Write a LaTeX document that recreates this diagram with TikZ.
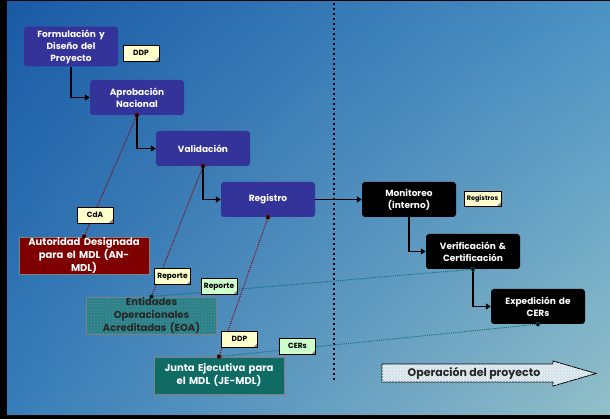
\documentclass[tikz,border=0pt]{standalone}
\usepackage{fontspec}
\setmainfont{Poppins}
\usetikzlibrary{arrows.meta,patterns,shadings}

\definecolor{stepblue}{HTML}{333399}
\definecolor{anred}{HTML}{7F0000}
\definecolor{eoateal}{HTML}{2C7F86}
\definecolor{eoadots}{HTML}{4F9AA0}
\definecolor{jeteal}{HTML}{0F6B63}
\definecolor{noteyellow}{HTML}{FFFFCC}
\definecolor{notegreen}{HTML}{CCFFCC}
\definecolor{linkred}{HTML}{8B0000}
\definecolor{linkteal}{HTML}{0E6F6F}
\definecolor{bgtl}{HTML}{1A5AA5}
\definecolor{bgtr}{HTML}{4A92C4}
\definecolor{bgbl}{HTML}{377DB9}
\definecolor{bgbr}{HTML}{93C0C9}
\definecolor{arrowfill}{HTML}{D3E2EA}

\tikzset{
  stepbox/.style={fill=stepblue, rounded corners=3pt, text=white,
    font=\fontsize{9}{12}\selectfont\bfseries, align=center,
    text width=88pt, inner sep=3pt, minimum height=35pt},
  opbox/.style={stepbox, fill=black},
  agentbox/.style={draw=gray, line width=0.8pt, text=white,
    font=\fontsize{10}{13}\selectfont\bfseries, align=center,
    text width=124pt, inner xsep=3pt, inner ysep=0pt, minimum height=37pt},
  note/.style={draw=black, fill=noteyellow, line width=0.6pt,
    font=\fontsize{7.5}{8.5}\selectfont\bfseries, inner sep=1pt,
    minimum width=36pt, minimum height=16pt,
    path picture={
      \fill[black!45] ([xshift=-4pt]path picture bounding box.south east)
        -- ([yshift=4pt]path picture bounding box.south east)
        -- (path picture bounding box.south east) -- cycle;}},
  flow/.style={draw=black, line width=1.3pt, -{Triangle[length=5pt,width=6pt]}},
  linkred/.style={draw=linkred, line width=1pt, dash pattern=on 1pt off 1.2pt},
  linkteal/.style={draw=linkteal, line width=1pt, dash pattern=on 1pt off 1.2pt},
}

\begin{document}
\begin{tikzpicture}[x=1pt,y=-1pt]
  \useasboundingbox (0,0) rectangle (610,419);
  % background
  \fill[black] (0,0) rectangle (610,419);
  \shade[upper left=bgtl, upper right=bgtr, lower left=bgbl, lower right=bgbr]
    (7,2) rectangle (610,414);

  % separator between project cycle and operation
  \coordinate (sepTop) at (334,3);
  \coordinate (sepBot) at (334,382);
  \draw[line width=2pt, dash pattern=on 2pt off 3pt] (sepTop) -- (sepBot);

  % project cycle
  \node[stepbox] (form) at (71,46.5) {Formulación y\\Diseño del\\Proyecto};
  \node[stepbox] (aprob) at (137,97.5) {Aprobación\\Nacional};
  \node[stepbox] (valid) at (203,148.5) {Validación};
  \node[stepbox] (regis) at (268,199.5) {Registro};
  \node[opbox] (monit) at (409,199.5) {Monitoreo\\(interno)};
  \node[opbox] (verif) at (473,251.5) {Verificación \&\\Certificación};
  \node[opbox] (exped) at (538,306.5) {Expedición de\\CERs};

  \draw[flow] (form.south) |- (aprob.west);
  \draw[flow] (aprob.south) |- (valid.west);
  \draw[flow] (valid.south) |- (regis.west);
  \draw[flow] (regis.east) -- (monit.west);
  \draw[flow] (monit.south) |- (verif.west);
  \draw[flow] (verif.south) |- (exped.west);

  % actors
  \node[agentbox, fill=anred] (anmdl) at (84,255.5)
    {Autoridad Designada\\para el MDL (AN-\\MDL)};
  \node[agentbox, fill=eoateal, text=black!85,
    postaction={pattern=crosshatch dots, pattern color=eoadots}]
    (eoa) at (151.5,315.5) {Entidades\\Operacionales\\Acreditadas (EOA)};
  \node[agentbox, fill=jeteal] (jemdl) at (219,375.5)
    {Junta Ejecutiva para\\el MDL (JE-MDL)};

  % links
  \draw[linkred] (aprob.south) -- (anmdl.north);
  \draw[linkred] (valid.south) -- (eoa.north);
  \draw[linkred] (regis.south) -- (jemdl.north);
  \draw[linkteal] (eoa.north) -- (verif.south);
  \draw[linkteal] (jemdl.north) -- (exped.south);
  \fill[linkred] (aprob.south) circle (2pt);
  \fill[linkred] (valid.south) circle (2pt);
  \fill[linkred] (regis.south) circle (2pt);
  \fill[linkred] (anmdl.north) circle (2pt);
  \fill[linkred] (jemdl.north) circle (2pt);
  \fill[linkteal] (eoa.north) circle (2pt);
  \fill[linkteal] (verif.south) circle (2pt);
  \fill[linkteal] (exped.south) circle (2pt);

  % documents
  \node[note] (ddpA) at (141,53) {DDP};
  \node[note] (cda) at (95,215) {CdA};
  \node[note] (repA) at (172.5,276.5) {Reporte};
  \node[note, fill=notegreen] (repB) at (219,286.5) {Reporte};
  \node[note] (ddpB) at (239.5,339) {DDP};
  \node[note, fill=notegreen] (cers) at (297.5,346) {CERs};
  \node[note, font=\fontsize{6.5}{7.5}\selectfont\bfseries, minimum width=37pt,
    minimum height=15pt] (regs) at (482.5,198.5) {Registros};

  % operation arrow
  \filldraw[fill=arrowfill, draw=black, line width=0.8pt,
    postaction={pattern=crosshatch dots, pattern color=white}]
    (382,364) -- (553,364) -- (553,361) -- (596,373.5) -- (553,386)
    -- (553,382) -- (382,382) -- cycle;
  \node[font=\fontsize{11}{13}\selectfont\bfseries, text=black!85] (oper) at (474,373)
    {Operación del proyecto};
\end{tikzpicture}
\end{document}
